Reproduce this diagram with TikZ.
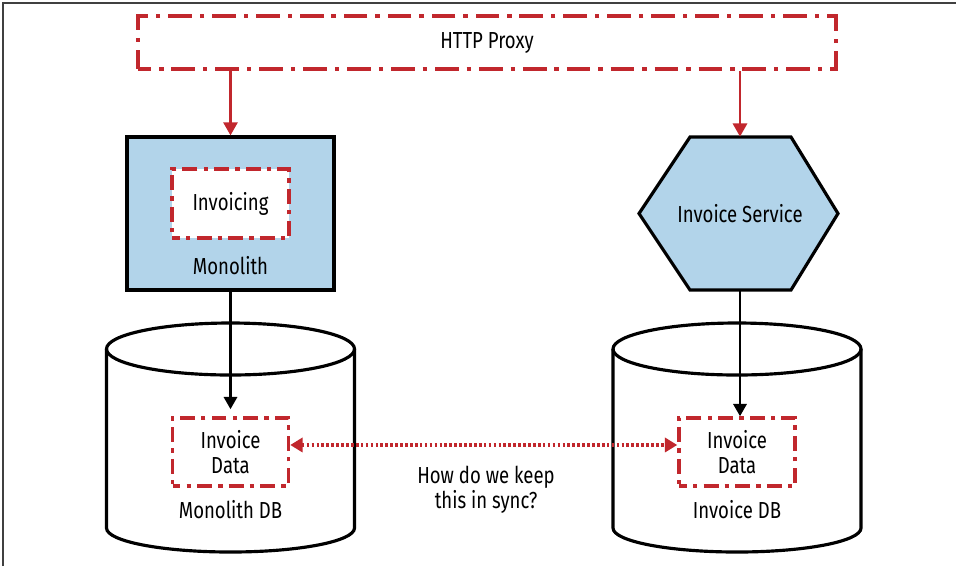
\documentclass[tikz,border=0pt]{standalone}
\usepackage{fontspec}
\setmainfont{Fira Sans}[FakeStretch=0.8]
\usepackage{xcolor}
\usetikzlibrary{arrows.meta}
\definecolor{proxyred}{RGB}{193,39,45}
\definecolor{boxblue}{RGB}{178,212,234}
\tikzset{
  lbl/.style={font=\fontsize{13.2}{14.3}\selectfont, align=center},
  dashbig/.style={draw=proxyred, line width=2pt,
    dash pattern=on 13.5pt off 4.5pt on 2.5pt off 4.5pt, dash phase=6pt},
  dashsmall/.style={draw=proxyred, line width=2pt,
    dash pattern=on 8.5pt off 3.5pt on 2.5pt off 3.5pt, dash phase=4pt},
  redarrow/.style={draw=proxyred, line width=1.6pt, -{Triangle[length=7.5pt,width=8pt]}},
  blackarrow/.style={line width=1.5pt, -{Triangle[length=7pt,width=7.5pt]}},
  syncarrow/.style={draw=proxyred, line width=1.8pt, dash pattern=on 1.5pt off 1.3pt,
    {Triangle[length=7pt,width=8pt]}-{Triangle[length=7pt,width=8pt]}},
}
\begin{document}
\begin{tikzpicture}[x=0.02cm, y=-0.02cm]
  \useasboundingbox (0,0) rectangle (956,566);
  \draw[black!75, line width=1.1pt] (3,566) -- (3,3) -- (956,3);

  % proxy on top
  \node[lbl, dashbig, minimum width=13.96cm, minimum height=1.06cm] (proxy) at (487,42.5) {HTTP Proxy};

  % monolith with its invoicing part
  \node[draw, fill=boxblue, line width=1.8pt, minimum width=4.14cm, minimum height=3.06cm] (monolith) at (230.5,213.5) {};
  \node[lbl, dashsmall, fill=white, minimum width=2.34cm, minimum height=1.38cm] (invoicing) at (230.5,203.5) {Invoicing};
  \node[lbl] (monolithlbl) at (230.5,266) {Monolith};

  % the new service
  \draw[fill=boxblue, line width=1.8pt, line join=miter]
    (690,137) -- (791,137) -- (838,213.5) -- (791,290) -- (690,290) -- (639,213.5) -- cycle;
  \node[lbl, minimum height=3.06cm] (svc) at (740,213.5) {Invoice Service};

  % the two databases
  \foreach \cx/\nm [count=\i] in {230.5/Monolith DB, 737/Invoice DB}{
    \draw[fill=white, line width=1.8pt]
      ({\cx-124},349) -- ({\cx-124},528)
      arc[start angle=180, end angle=0, x radius=124, y radius=24] -- ({\cx+124},349);
    \draw[line width=1.8pt] (\cx,349) ellipse[x radius=124, y radius=26];
    \node[lbl] (dblbl\i) at (\cx,510) {\nm};
  }
  \node[lbl, dashsmall, minimum width=2.32cm, minimum height=1.36cm] (ldata) at (230.5,452) {Invoice\\Data};
  \node[lbl, dashsmall, minimum width=2.32cm, minimum height=1.36cm] (rdata) at (737,452) {Invoice\\Data};

  % connectors
  \draw[redarrow] (proxy.south -| monolith.north) -- (monolith.north);
  \draw[redarrow] (proxy.south -| svc.north) -- (svc.north);
  \draw[blackarrow, shorten >=4pt] (monolith.south) -- (monolith.south |- ldata.north);
  \draw[blackarrow] (svc.south) -- (svc.south |- rdata.north);
  \draw[syncarrow] ([yshift=4pt]ldata.east) -- ([yshift=4pt]rdata.west);
  \node[lbl] (synclbl) at (486,490) {How do we keep\\this in sync?};
\end{tikzpicture}
\end{document}
